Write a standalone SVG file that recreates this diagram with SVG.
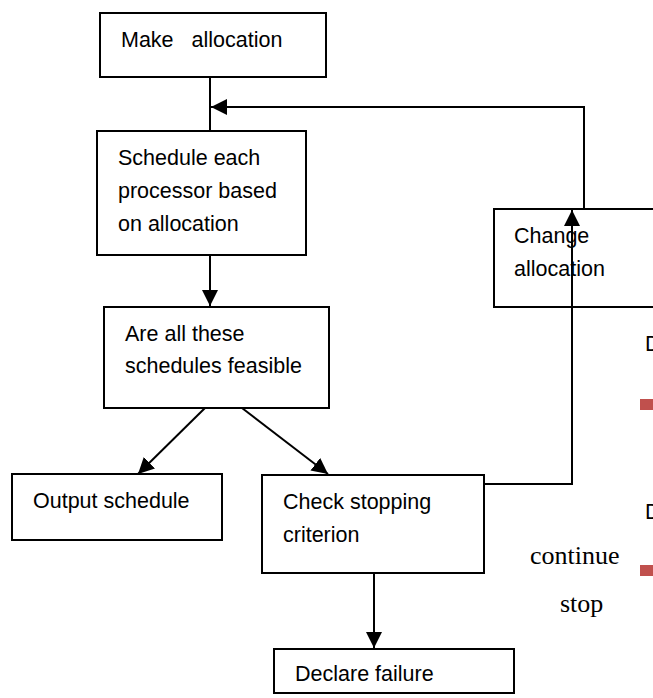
<svg xmlns="http://www.w3.org/2000/svg" width="653" height="698" viewBox="0 0 653 698">
<style>
.box{fill:#fff;stroke:#000;stroke-width:2}
.t{font-family:"Liberation Sans",Arial,sans-serif;font-size:21.5px;fill:#000}
.s{font-family:"Liberation Serif","Times New Roman",serif;font-size:26px;fill:#000}
.c{fill:none;stroke:#000;stroke-width:2}
.m{fill:#c0504d}
</style>
<defs>
<marker id="ah" viewBox="0 0 16 16" refX="16" refY="8" markerWidth="16" markerHeight="16" markerUnits="userSpaceOnUse" orient="auto">
<path d="M0,0 L16,8 L0,16 Z" fill="#000"/>
</marker>
</defs>
<rect width="653" height="698" fill="#fff"/>
<g id="make-allocation"><rect class="box" x="100" y="13" width="226" height="64"/><text class="t" x="121" y="47" xml:space="preserve">Make   allocation</text></g>
<g id="schedule-each"><rect class="box" x="97" y="131" width="209" height="124"/><text class="t" x="118" y="165">Schedule each</text><text class="t" x="118" y="198">processor based</text><text class="t" x="118" y="231">on allocation</text></g>
<g id="are-all"><rect class="box" x="104" y="307" width="225" height="101"/><text class="t" x="125" y="341">Are all these</text><text class="t" x="125" y="373">schedules feasible</text></g>
<g id="output-schedule"><rect class="box" x="12" y="474" width="210" height="66"/><text class="t" x="33" y="508">Output schedule</text></g>
<g id="check-stopping"><rect class="box" x="262" y="475" width="222" height="98"/><text class="t" x="283" y="509">Check stopping</text><text class="t" x="283" y="542">criterion</text></g>
<g id="declare-failure"><rect class="box" x="274" y="649" width="240" height="44"/><text class="t" x="295" y="681">Declare failure</text></g>
<g id="change-allocation"><rect class="box" x="494" y="209" width="170" height="98"/><text class="t" x="514" y="243">Change</text><text class="t" x="514" y="276">allocation</text></g>
<g id="connectors">
<line class="c" x1="210" y1="77" x2="210" y2="131"/>
<polyline class="c" points="584,209 584,107 211,107" marker-end="url(#ah)"/>
<line class="c" x1="210" y1="255" x2="210" y2="306" marker-end="url(#ah)"/>
<line class="c" x1="205" y1="408" x2="138" y2="474" marker-end="url(#ah)"/>
<line class="c" x1="242" y1="408" x2="328" y2="474" marker-end="url(#ah)"/>
<polyline class="c" points="484,484 572,484 572,210" marker-end="url(#ah)"/>
<line class="c" x1="374" y1="573" x2="374" y2="648" marker-end="url(#ah)"/>
</g>
<g id="side">
<text class="t" x="645" y="351">D</text>
<rect class="m" x="640" y="399" width="13" height="11"/>
<text class="t" x="645" y="519">D</text>
<rect class="m" x="640" y="565" width="13" height="11"/>
<text class="s" x="530" y="564">continue</text>
<text class="s" x="560" y="612">stop</text>
</g>
</svg>
